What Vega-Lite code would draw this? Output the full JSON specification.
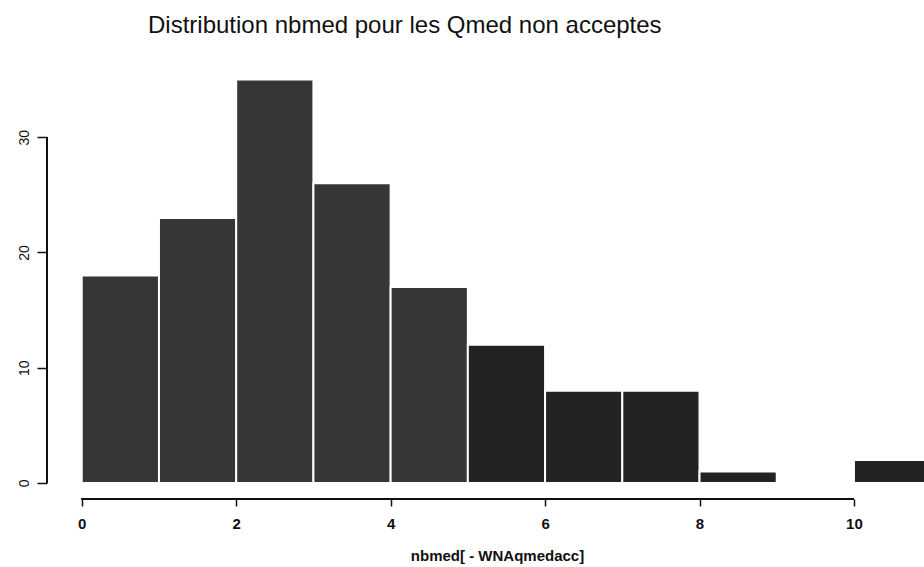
{
  "$schema": "https://vega.github.io/schema/vega-lite/v6.json",
  "autosize": "none",
  "width": 877,
  "height": 439,
  "padding": {"left": 47, "top": 60, "right": 0, "bottom": 68},
  "background": "white",
  "config": {"view": {"stroke": null}, "font": "Liberation Sans"},
  "title": {
    "text": "Distribution nbmed pour les Qmed non acceptes",
    "anchor": "start",
    "dx": 131,
    "offset": 3,
    "baseline": "alphabetic",
    "fontSize": 24,
    "fontWeight": "normal",
    "color": "#111"
  },
  "data": {
    "values": [
      {"lo": 0, "hi": 1, "count": 18},
      {"lo": 1, "hi": 2, "count": 23},
      {"lo": 2, "hi": 3, "count": 35},
      {"lo": 3, "hi": 4, "count": 26},
      {"lo": 4, "hi": 5, "count": 17},
      {"lo": 5, "hi": 6, "count": 12},
      {"lo": 6, "hi": 7, "count": 8},
      {"lo": 7, "hi": 8, "count": 8},
      {"lo": 8, "hi": 9, "count": 1},
      {"lo": 9, "hi": 10, "count": 0},
      {"lo": 10, "hi": 11, "count": 2}
    ]
  },
  "layer": [
    {
      "mark": {"type": "bar", "stroke": "white", "strokeWidth": 2, "clip": true},
      "encoding": {
        "x": {
          "field": "lo", "type": "quantitative",
          "scale": {"domain": [-0.45, 10.907], "nice": false, "zero": false},
          "axis": {
            "values": [0, 2, 4, 6, 8, 10],
            "format": "d",
            "domain": false, "grid": false,
            "tickSize": 7, "tickColor": "#111", "tickWidth": 1.5,
            "labelFontSize": 15, "labelFontWeight": "bold", "labelColor": "#111",
            "labelPadding": 10, "labelFlush": false,
            "title": "nbmed[ - WNAqmedacc]",
            "titleFontSize": 15, "titleFontWeight": "bold", "titleColor": "#111",
            "titlePadding": 17, "titleX": 450
          }
        },
        "x2": {"field": "hi"},
        "y": {
          "field": "count", "type": "quantitative",
          "scale": {"domain": [-1.39, 36.7], "nice": false, "zero": false},
          "axis": {
            "values": [0, 10, 20, 30],
            "format": "d",
            "domain": false, "grid": false,
            "tickSize": 10, "tickColor": "#111", "tickWidth": 1.5,
            "labelAngle": 270, "labelAlign": "center", "labelBaseline": "bottom",
            "labelFontSize": 14, "labelColor": "#111", "labelPadding": 6,
            "title": null
          }
        },
        "y2": {"datum": 0},
        "color": {
          "condition": {"test": "datum.lo < 5", "value": "#363636"},
          "value": "#232323"
        }
      }
    },
    {
      "mark": {"type": "rule", "color": "#111", "strokeWidth": 1.5},
      "encoding": {
        "x": {"datum": 0, "type": "quantitative"},
        "x2": {"datum": 10},
        "y": {"datum": -1.39, "type": "quantitative"}
      }
    },
    {
      "mark": {"type": "rule", "color": "#111", "strokeWidth": 1.5},
      "encoding": {
        "x": {"datum": -0.45, "type": "quantitative"},
        "y": {"datum": 0, "type": "quantitative"},
        "y2": {"datum": 30}
      }
    }
  ]
}
